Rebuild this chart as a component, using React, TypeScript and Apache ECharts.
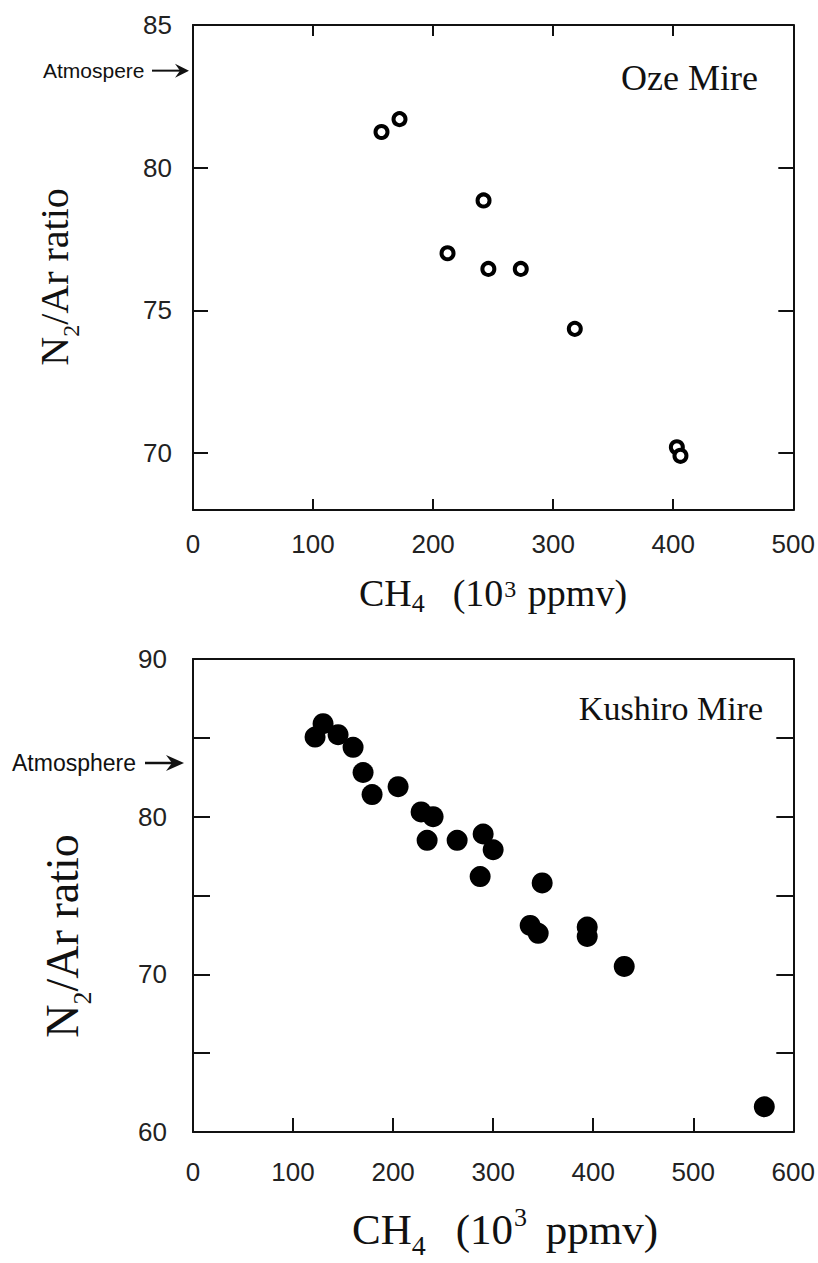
import React, { useEffect, useRef } from "react";
import * as echarts from "echarts";

// ---- Data ----
const ozeCH4 = [157, 172, 242, 212, 246, 273, 318, 403, 406];
const ozeN2Ar = [81.25, 81.7, 78.85, 77.0, 76.45, 76.45, 74.35, 70.2, 69.9];

const kushiroCH4 = [122, 130, 145, 160, 170, 179, 205, 228, 240, 234, 264, 290, 300, 287, 349, 337, 345, 394, 394, 431, 571];
const kushiroN2Ar = [85.05, 85.9, 85.2, 84.4, 82.8, 81.4, 81.9, 80.3, 80.0, 78.5, 78.5, 78.9, 77.9, 76.2, 75.8, 73.1, 72.6, 73.0, 72.4, 70.5, 61.6];

const atmosphereN2Ar = 83.4;

const ozeYTicks = [70, 75, 80];
const ozeYLabels = [70, 75, 80, 85];
const kushiroYLabels = [60, 70, 80, 90];

const SERIF = "'Liberation Serif', 'Times New Roman', serif";
const SANS = "'Liberation Sans', Arial, sans-serif";
const INK = "#111";

export default function App() {
  const ref = useRef<HTMLDivElement>(null);

  useEffect(() => {
    document.body.style.margin = "0";
    const el = ref.current!;
    const chart = echarts.init(el, null, { renderer: "svg" });

    const lineStyle = { color: INK, width: 2 };
    const labelBase = { fontSize: 26, color: "#222", fontFamily: SANS };

    const option: any = {
      animation: false,
      backgroundColor: "#fff",
      grid: [
        { left: 193, top: 25, width: 601, height: 485 },
        { left: 193, top: 659, width: 601, height: 473 },
      ],
      xAxis: [
        {
          gridIndex: 0, type: "value", position: "bottom", min: 0, max: 500, interval: 100,
          axisLine: { show: true, onZero: false, lineStyle },
          axisTick: { show: true, inside: true, length: 11, lineStyle },
          axisLabel: { ...labelBase, margin: 21 },
          splitLine: { show: false },
        },
        {
          gridIndex: 0, type: "value", position: "top", min: 0, max: 500, interval: 100,
          axisLine: { show: true, onZero: false, lineStyle },
          axisTick: { show: true, inside: true, length: 11, lineStyle },
          axisLabel: { show: false },
          splitLine: { show: false },
        },
        {
          gridIndex: 1, type: "value", position: "bottom", min: 0, max: 600, interval: 100,
          axisLine: { show: true, onZero: false, lineStyle },
          axisTick: { show: true, inside: true, length: 14, lineStyle },
          axisLabel: { ...labelBase, margin: 27 },
          splitLine: { show: false },
        },
        {
          gridIndex: 1, type: "value", position: "top", min: 0, max: 600, interval: 100,
          axisLine: { show: true, onZero: false, lineStyle },
          axisTick: { show: false },
          axisLabel: { show: false },
          splitLine: { show: false },
        },
      ],
      yAxis: [
        {
          gridIndex: 0, type: "value", position: "left", min: 68, max: 85,
          axisLine: { show: true, onZero: false, lineStyle },
          axisTick: { show: true, inside: true, length: 15, lineStyle, customValues: ozeYTicks },
          axisLabel: { ...labelBase, margin: 21, customValues: ozeYLabels },
          splitLine: { show: false },
        },
        {
          gridIndex: 0, type: "value", position: "right", min: 68, max: 85,
          axisLine: { show: true, onZero: false, lineStyle },
          axisTick: { show: true, inside: true, length: 15, lineStyle, customValues: ozeYTicks },
          axisLabel: { show: false },
          splitLine: { show: false },
        },
        {
          gridIndex: 1, type: "value", position: "left", min: 60, max: 90, interval: 5,
          axisLine: { show: true, onZero: false, lineStyle },
          axisTick: { show: true, inside: true, length: 17, lineStyle },
          axisLabel: { ...labelBase, margin: 26, customValues: kushiroYLabels },
          splitLine: { show: false },
        },
        {
          gridIndex: 1, type: "value", position: "right", min: 60, max: 90, interval: 5,
          axisLine: { show: true, onZero: false, lineStyle },
          axisTick: { show: true, inside: true, length: 17, lineStyle },
          axisLabel: { show: false },
          splitLine: { show: false },
        },
      ],
      series: [
        {
          name: "Oze Mire", type: "scatter", xAxisIndex: 0, yAxisIndex: 0,
          symbol: "circle", symbolSize: 12,
          itemStyle: { color: "#fff", borderColor: "#000", borderWidth: 4, opacity: 1 },
          data: ozeCH4.map((x, i) => [x, ozeN2Ar[i]]),
        },
        {
          name: "Kushiro Mire", type: "scatter", xAxisIndex: 2, yAxisIndex: 2,
          symbol: "circle", symbolSize: 21,
          itemStyle: { color: "#000", opacity: 1 },
          data: kushiroCH4.map((x, i) => [x, kushiroN2Ar[i]]),
        },
      ],
    };

    chart.setOption(option);

    const yTop = chart.convertToPixel({ yAxisIndex: 0 }, atmosphereN2Ar) as number;
    const yBot = chart.convertToPixel({ yAxisIndex: 2 }, atmosphereN2Ar) as number;

    const text = (x: number, y: number, style: any, rotation = 0) => ({
      type: "text", x, y, rotation, silent: true,
      style: { fill: INK, align: "center", verticalAlign: "middle", ...style },
    });

    chart.setOption({
      graphic: [
        // Y titles
        text(54, 277, {
          text: "{n|N}{s|2}{n|/Ar ratio}",
          rich: {
            n: { fontSize: 40, fontFamily: SERIF, fill: INK },
            s: { fontSize: 24, fontFamily: SERIF, fill: INK, padding: [34, 0, 0, 0] },
          },
        }, Math.PI / 2),
        text(62, 936, {
          text: "{n|N}{s|2}{n|/Ar ratio}",
          rich: {
            n: { fontSize: 46, fontFamily: SERIF, fill: INK },
            s: { fontSize: 26, fontFamily: SERIF, fill: INK, padding: [40, 0, 0, 0] },
          },
        }, Math.PI / 2),
        // X titles
        text(493, 593, {
          text: "{n|CH}{s|4}{n|(10}{p|3}{n| ppmv)}",
          rich: {
            n: { fontSize: 38, fontFamily: SERIF, fill: INK },
            s: { fontSize: 26, fontFamily: SERIF, fill: INK, padding: [20, 28, 0, 0] },
            p: { fontSize: 24, fontFamily: SERIF, fill: INK, padding: [0, 2, 8, 1] },
          },
        }),
        text(505, 1229, {
          text: "{n|CH}{s|4}{n|(10}{p|3}{n| ppmv)}",
          rich: {
            n: { fontSize: 43, fontFamily: SERIF, fill: INK },
            s: { fontSize: 28, fontFamily: SERIF, fill: INK, padding: [32, 30, 0, 0] },
            p: { fontSize: 26, fontFamily: SERIF, fill: INK, padding: [0, 8, 24, 1] },
          },
        }),
        // Panel labels
        text(758, 78, { text: "Oze Mire", fontSize: 36, fontFamily: SERIF, align: "right" }),
        text(763, 708, { text: "Kushiro Mire", fontSize: 34, fontFamily: SERIF, align: "right" }),
        // Atmosphere markers
        text(43, yTop, { text: "Atmospere", fontSize: 21, fontFamily: SANS, align: "left" }),
        { type: "line", silent: true, shape: { x1: 152, y1: yTop, x2: 184, y2: yTop }, style: { stroke: INK, lineWidth: 2 } },
        { type: "polygon", silent: true, shape: { points: [[189, yTop], [175, yTop - 7], [180, yTop], [175, yTop + 7]] }, style: { fill: INK } },
        text(12, yBot, { text: "Atmosphere", fontSize: 23, fontFamily: SANS, align: "left" }),
        { type: "line", silent: true, shape: { x1: 145, y1: yBot, x2: 178, y2: yBot }, style: { stroke: INK, lineWidth: 2.5 } },
        { type: "polygon", silent: true, shape: { points: [[184, yBot], [166, yBot - 8], [172, yBot], [166, yBot + 8]] }, style: { fill: INK } },
      ],
    });

    return () => chart.dispose();
  }, []);

  return <div ref={ref} style={{ width: 818, height: 1263, background: "#fff" }} />;
}
